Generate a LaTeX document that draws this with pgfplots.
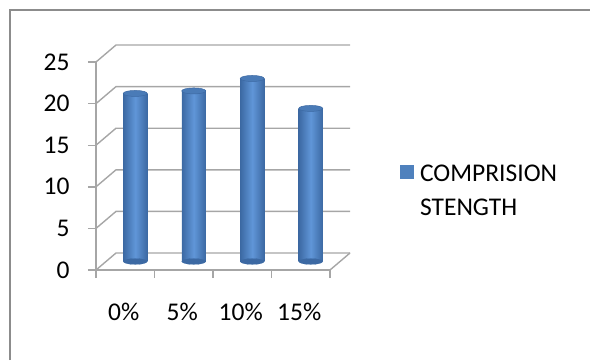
\documentclass[border=0pt]{standalone}
\usepackage{fontspec}
\setmainfont{Carlito}
\usepackage{pgfplots}
\pgfplotsset{compat=1.18}
\definecolor{gridc}{HTML}{A6A6A6}
\definecolor{barmain}{HTML}{4F81BD}
\definecolor{bardark}{HTML}{3C69A3}
\definecolor{barlight}{HTML}{6096D8}
\definecolor{bartop}{HTML}{4A7BB7}
\definecolor{framec}{HTML}{8C8C8C}
\begin{document}
\begin{tikzpicture}[x=1pt,y=1pt]
\useasboundingbox (0,0) rectangle (590,360);
\draw[framec, line width=1.6pt] (10,0) -- (10,350) -- (590,350);
% frame / walls
\begin{axis}[
  at={(96pt,90pt)}, anchor=south west,
  scale only axis, width=234pt, height=208pt,
  xmin=0, xmax=4, ymin=0, ymax=25, clip=false,
  axis x line*=bottom, axis y line*=left,
  axis line style={gridc, line width=1.4pt, -},
  tick style={gridc, line width=1.4pt},
  tick align=outside, major tick length=8pt,
  ytick={0,5,...,25},
  xtick={0,1,2,3,4}, xticklabels={},
  extra x ticks={0.5,1.5,2.5,3.5},
  extra x tick labels={0\%,5\%,10\%,15\%},
  extra x tick style={major tick length=0pt, xticklabel style={yshift=-30pt, xshift=-1.5pt}},
  yticklabel style={xshift=-15pt},
  ticklabel style={font=\fontsize{25.5}{30}\selectfont, text=black},
  /pgf/number format/assume math mode=true,
]
\pgfplotsinvokeforeach{0,5,10,15,20,25}{
  \draw[gridc, line width=1.4pt] (axis cs:0,#1) -- (axis cs:0.342,#1+2.043) -- (axis cs:4.342,#1+2.043);
}
\draw[gridc, line width=1.4pt] (axis cs:4,0) -- (axis cs:4.342,2.043);
\end{axis}
% bars at mid depth
\begin{axis}[
  at={(106pt,98.5pt)}, anchor=south west,
  scale only axis, width=234pt, height=208pt,
  xmin=0, xmax=4, ymin=0, ymax=25, clip=false,
  axis lines=none,
  legend style={at={(axis description cs:1.256,0.4736)}, anchor=north west,
    draw=none, fill=none, inner sep=0pt,
    font=\fontsize{25.5}{33.4}\selectfont, cells={align=left}},
  legend image code/.code={%
    \pgfpathrectangle{\pgfpoint{0pt}{0pt}}{\pgfpoint{18pt}{0pt}}\pgfusepath{}%
    \pgfsetfillcolor{barmain}%
    \pgfpathrectangle{\pgfpoint{0pt}{12pt}}{\pgfpoint{14pt}{14pt}}\pgfusepath{fill}},
  cylinder/.style={ybar, bar width=24pt, draw=none,
    left color=bardark, right color=bardark, middle color=barlight},
]
\addplot[forget plot, only marks, mark=*, mark size=12pt,
  mark options={yscale=0.25, fill=bardark, draw=bardark, line width=0.1pt}]
  coordinates {(0.5,0) (1.5,0) (2.5,0) (3.5,0)};
\addplot[cylinder] coordinates {(0.5,20.2)};
\addlegendentry{COMPRISION\\STENGTH}
\addplot[cylinder, forget plot] coordinates {(1.5,20.5)};
\addplot[cylinder, forget plot] coordinates {(2.5,22.0)};
\addplot[cylinder, forget plot] coordinates {(3.5,18.4)};
\addplot[forget plot, only marks, mark=*, mark size=12pt,
  mark options={yscale=0.25, fill=bartop, draw=bardark, line width=0.5pt}]
  coordinates {(0.5,20.2) (1.5,20.5) (2.5,22.0) (3.5,18.4)};
\end{axis}
\end{tikzpicture}
\end{document}
